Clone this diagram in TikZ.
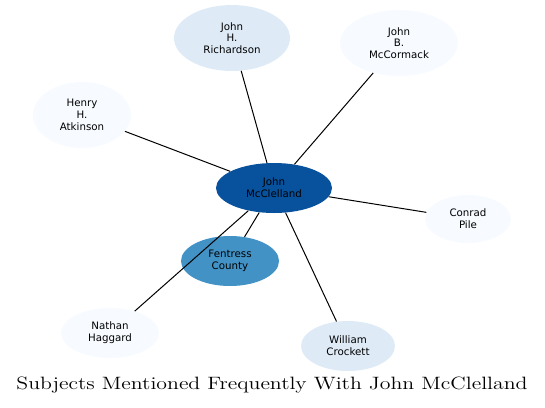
\documentclass[tikz,border=0pt]{standalone}
\usepackage{fontspec}
\newfontfamily\nodefont{DejaVu Sans}
\usepackage{tikz}
\usetikzlibrary{shapes.geometric}
\definecolor{hub}{HTML}{08519C}
\definecolor{mid}{HTML}{4292C6}
\definecolor{pale}{HTML}{DEEBF7}
\definecolor{faint}{HTML}{F7FBFF}

\begin{document}
\begin{tikzpicture}[
  x=0.75pt, y=-0.75pt,
  every node/.style={font=\nodefont\fontsize{7.7}{8.8}\selectfont},
  subj/.style  = {ellipse, inner sep=0pt, align=center, draw=none, text=black},
  hubn/.style  = {subj, fill=hub},
  midn/.style  = {subj, fill=mid},
  palen/.style = {subj, fill=pale},
  faintn/.style= {subj, fill=faint},
  link/.style  = {black, line width=0.75pt},
]
  \useasboundingbox (0,0) rectangle (545,407);
  \node[hubn, minimum width=87pt, minimum height=37.5pt]   (mcclelland) at (274,188) {John\\McClelland};
  \node[palen, minimum width=87pt, minimum height=49.5pt]  (richardson) at (232,38)  {John\\H.\\Richardson};
  \node[faintn, minimum width=88.5pt, minimum height=49.5pt] (mccormack) at (399,43)  {John\\B.\\McCormack};
  \node[faintn, minimum width=73.5pt, minimum height=49.5pt] (atkinson)  at (82,115)  {Henry\\H.\\Atkinson};
  \node[faintn, minimum width=64.5pt, minimum height=36pt]   (pile)      at (468,219) {Conrad\\Pile};
  \node[midn, minimum width=73.5pt, minimum height=37.5pt]   (fentress)  at (230,261) {Fentress\\County};
  \node[faintn, minimum width=73.5pt, minimum height=37.5pt] (haggard)   at (110,333) {Nathan\\Haggard};
  \node[palen, minimum width=70.5pt, minimum height=37.5pt]  (crockett)  at (348,346) {William\\Crockett};
  \foreach \n in {richardson,mccormack,atkinson,pile,fentress,haggard,crockett}
     \draw[link] (mcclelland) -- (\n);
  \node[font=\fontsize{13.4}{16}\selectfont] (title) at (272,385) {\scalebox{1.22}[1]{Subjects Mentioned Frequently With John McClelland}};
\end{tikzpicture}
\end{document}
